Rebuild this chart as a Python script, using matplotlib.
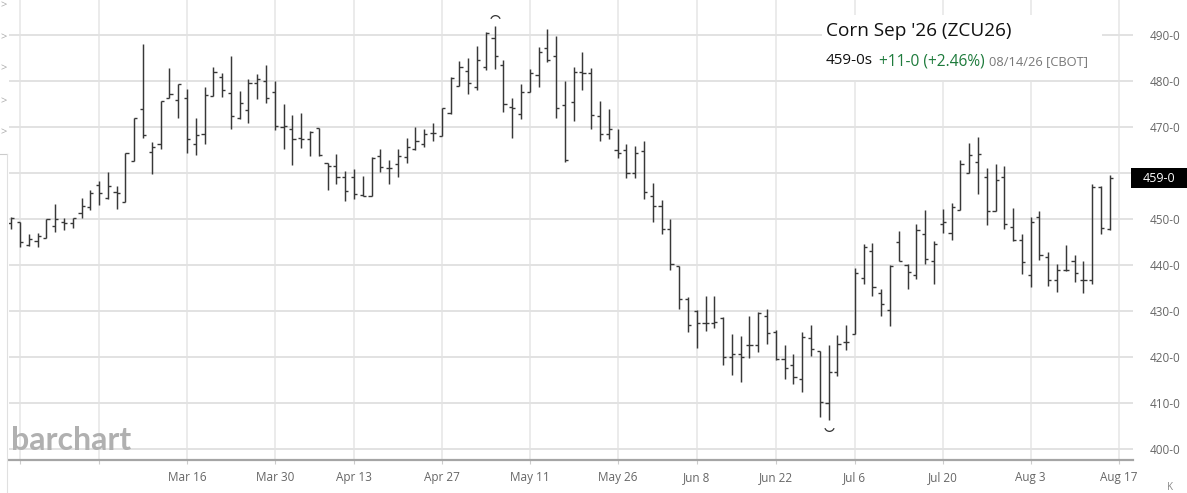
import matplotlib
matplotlib.use("Agg")
import matplotlib.pyplot as plt
import numpy as np
import pandas as pd
from matplotlib.path import Path
from matplotlib.patches import Rectangle

plt.rcParams['font.family'] = ['Open Sans', 'DejaVu Sans']

# ---------------- data ----------------
opens = [449.1, 449.3, 444.3, 445.1, 445.9, 448.5, 449.3, 449.1, 451.2, 452.5,
         457.4, 454.5, 455.9, 453.7, 462.6, 474.0, 464.6, 466.2, 476.2, 475.8,
         476.2, 466.2, 468.4, 476.7, 480.9, 477.3, 471.9, 473.7, 479.6, 480.0,
         477.7, 470.0, 469.5, 467.5, 467.3, 469.7, 462.2, 461.5, 459.1, 459.1,
         455.2, 455.0, 463.6, 461.0, 462.0, 463.5, 465.3, 466.2, 468.6, 468.0,
         473.0, 478.9, 482.2, 478.6, 483.0, 489.4, 483.5, 474.3, 472.9, 477.5,
         481.2, 487.2, 485.4, 474.8, 475.5, 482.0, 481.8, 472.4, 468.4, 465.0,
         465.0, 459.9, 464.8, 455.0, 452.8, 447.8, 439.7, 432.6, 429.9, 427.4,
         427.4, 428.5, 420.0, 420.7, 422.7, 422.7, 428.8, 425.4, 419.6, 418.2,
         415.1, 424.1, 421.4, 410.0, 416.8, 423.2, 425.0, 437.2, 443.1, 433.8,
         430.2, 444.9, 439.9, 437.9, 446.7, 440.9, 448.9, 447.0, 452.0, 459.9,
         462.4, 459.1, 451.8, 459.1, 448.3, 445.4, 437.9, 450.4, 441.7, 436.8,
         438.8, 440.8, 436.8, 436.7, 456.9, 447.9]
highs = [450.4, 449.4, 446.7, 446.9, 449.9, 453.2, 450.3, 450.3, 454.6, 456.4,
         458.3, 460.1, 457.2, 464.4, 472.0, 488.0, 466.8, 475.7, 482.9, 479.4,
         478.2, 471.9, 478.6, 483.1, 481.7, 485.4, 477.8, 480.4, 481.6, 483.4,
         479.9, 474.9, 472.6, 473.1, 469.1, 469.7, 462.2, 464.1, 460.4, 460.8,
         459.3, 463.5, 465.3, 462.8, 465.1, 467.7, 469.9, 469.6, 470.9, 474.2,
         480.9, 484.3, 484.9, 487.6, 490.7, 492.0, 484.6, 476.2, 479.4, 482.7,
         487.4, 491.2, 489.8, 480.0, 483.1, 486.2, 482.9, 475.7, 473.8, 469.6,
         466.2, 465.9, 467.0, 457.9, 454.1, 449.9, 439.7, 433.0, 430.3, 433.3,
         433.3, 428.6, 424.9, 424.5, 428.8, 429.7, 430.4, 425.9, 422.7, 420.7,
         425.5, 427.0, 421.4, 422.5, 424.8, 427.0, 439.3, 444.6, 444.7, 434.8,
         440.0, 447.3, 440.1, 448.9, 451.9, 445.3, 452.2, 453.5, 462.8, 466.5,
         467.8, 461.1, 462.0, 461.6, 452.4, 446.7, 450.4, 451.8, 442.8, 440.1,
         444.4, 442.1, 440.8, 457.5, 457.1, 459.5]
lows = [447.8, 444.0, 444.1, 444.0, 445.9, 447.2, 447.5, 448.1, 450.3, 451.9,
        453.0, 454.4, 452.2, 453.7, 462.6, 467.5, 459.8, 465.3, 476.2, 471.9,
        464.4, 463.9, 466.2, 476.7, 476.5, 469.5, 471.7, 470.9, 476.0, 475.1,
        469.3, 465.3, 461.7, 465.5, 463.6, 463.6, 456.2, 457.5, 453.9, 454.3,
        455.0, 455.0, 460.3, 457.5, 459.2, 462.2, 464.9, 465.7, 467.0, 468.0,
        472.9, 478.9, 477.2, 478.0, 482.3, 482.7, 473.3, 467.7, 471.8, 477.5,
        478.6, 484.1, 472.0, 462.4, 471.2, 478.0, 469.5, 467.0, 467.3, 463.3,
        459.0, 459.0, 454.3, 449.3, 446.8, 439.0, 430.4, 425.4, 422.0, 425.7,
        426.3, 418.2, 416.0, 414.5, 419.8, 421.0, 422.9, 419.4, 415.2, 414.2,
        412.3, 420.1, 407.0, 406.3, 415.8, 421.6, 425.0, 435.9, 433.3, 428.8,
        426.8, 440.8, 434.8, 437.0, 440.1, 435.9, 447.0, 445.5, 452.0, 459.9,
        455.4, 448.6, 451.7, 447.9, 445.3, 438.0, 435.2, 441.0, 435.4, 434.1,
        438.6, 436.4, 433.9, 435.9, 446.7, 447.5]
closes = [450.3, 445.0, 445.6, 446.3, 449.9, 449.9, 449.2, 450.3, 452.8, 455.6,
          455.6, 457.2, 455.6, 464.4, 472.0, 468.2, 465.7, 475.7, 477.1, 479.3,
          467.3, 468.3, 477.0, 482.0, 478.0, 472.4, 475.1, 479.6, 480.5, 476.4,
          470.2, 470.1, 467.3, 467.3, 468.9, 463.8, 461.6, 459.2, 456.1, 455.5,
          455.0, 463.3, 461.2, 461.1, 463.7, 465.7, 466.9, 468.4, 468.6, 474.1,
          480.7, 483.0, 479.6, 484.5, 490.5, 485.4, 474.9, 474.2, 477.7, 481.7,
          486.2, 484.6, 474.2, 462.8, 482.0, 481.7, 472.6, 468.4, 469.6, 464.3,
          459.9, 464.3, 455.9, 452.8, 447.9, 440.2, 432.6, 426.9, 427.4, 427.4,
          427.6, 420.0, 420.7, 420.0, 422.5, 429.6, 425.2, 419.6, 417.6, 415.7,
          424.3, 421.7, 410.3, 416.8, 422.8, 423.2, 438.3, 443.8, 435.1, 431.5,
          439.7, 440.8, 438.4, 447.5, 441.4, 444.6, 449.3, 452.6, 462.0, 464.0,
          464.1, 451.7, 458.4, 448.8, 445.5, 440.7, 449.3, 442.2, 436.7, 439.0,
          438.8, 438.3, 436.7, 457.0, 448.0, 459.0]

grid_dates = ['2026-02-17', '2026-03-02', '2026-03-16', '2026-03-30', '2026-04-13',
              '2026-04-27', '2026-05-11', '2026-05-26', '2026-06-08', '2026-06-22',
              '2026-07-06', '2026-07-20', '2026-08-03', '2026-08-17']
grid_labels = ['', '', 'Mar 16', 'Mar 30', 'Apr 13', 'Apr 27', 'May 11', 'May 26',
               'Jun 8', 'Jun 22', 'Jul 6', 'Jul 20', 'Aug 3', 'Aug 17']
y_ticks = [400, 410, 420, 430, 440, 450, 460, 470, 480, 490]
y_labels = ['400-0', '410-0', '420-0', '430-0', '440-0', '450-0', '', '470-0', '480-0', '490-0']
holidays = ['2026-02-16', '2026-04-03', '2026-05-25', '2026-06-19', '2026-07-03']

title = "Corn Sep '26 (ZCU26)"
last_txt = "459-0s"
chg_txt = "+11-0 (+2.46%)"
date_txt = "08/14/26 [CBOT]"
price_box_txt = "459-0"

# ---------------- figure ----------------
W, H = 1187, 493
fig = plt.figure(figsize=(W / 100, H / 100), dpi=100)
fig.patch.set_facecolor('white')

def fx(px):
    return px / W

def fy(py):
    return 1 - py / H

ax = fig.add_axes([fx(9), fy(460), fx(1133) - fx(9), fy(0) - fy(460)])

dates = pd.bdate_range('2026-02-13', '2026-08-17')
dates = dates[~dates.isin(pd.to_datetime(holidays))]
n = len(opens)
x = np.arange(n)

o = np.array(opens); h = np.array(highs); l = np.array(lows); c = np.array(closes)

bar_col = '#383838'
tk = 0.36
ax.vlines(x, l, h, color=bar_col, lw=1.05, zorder=3)
ax.hlines(o, x - tk, x, color=bar_col, lw=1.0, zorder=3)
ax.hlines(c, x, x + tk, color=bar_col, lw=1.0, zorder=3)

# high / low markers
imax = int(np.argmax(h)); imin = int(np.argmin(l))
ax.plot([x[imax]], [h[imax] + 1.3], marker=Path.arc(20, 160), ms=7, mfc='none',
        mec='#333333', mew=0.9, ls='none', zorder=3)
ax.plot([x[imin]], [l[imin] - 1.3], marker=Path.arc(200, 340), ms=7, mfc='none',
        mec='#333333', mew=0.9, ls='none', zorder=3)

ax.set_xlim(-0.25, 127.64)
ax.set_ylim(397.6, 497.6)

gpos = [dates.get_loc(pd.Timestamp(d)) for d in grid_dates]
ax.set_xticks(gpos)
ax.set_xticklabels(grid_labels, fontsize=8.5, color='#666666')
ax.tick_params(axis='x', length=3, width=0.8, color='#cccccc', pad=5)
for xv in gpos:
    ax.axvline(xv, color='#e6e6e6', lw=1.1, zorder=1)

ax.yaxis.tick_right()
ax.set_yticks(y_ticks)
ax.set_yticklabels(y_labels, fontsize=8.5, color='#666666')
ax.tick_params(axis='y', length=0, pad=12)
for yv in y_ticks:
    ax.axhline(yv, color='#e2e2e2', lw=1.4, zorder=1)

for s in ['top', 'left', 'right']:
    ax.spines[s].set_visible(False)
ax.spines['bottom'].set_color('#a5a5a5')
ax.spines['bottom'].set_linewidth(1.6)
ax.set_facecolor('white')

# header box
fig.patches.append(Rectangle((fx(822), fy(80)), fx(1102) - fx(822), fy(15) - fy(80),
                             transform=fig.transFigure, facecolor='white',
                             edgecolor='none', zorder=2))
fig.text(fx(826), fy(31), title, fontsize=13.7, color='#111111', va='center', ha='left', zorder=5)
fig.text(fx(826), fy(61), last_txt, fontsize=11, color='#111111', va='center', ha='left', zorder=5)
fig.text(fx(879), fy(61), chg_txt, fontsize=11.2, color='#1e7b3c', va='center', ha='left', zorder=5)
fig.text(fx(989), fy(62), date_txt, fontsize=9.3, color='#777777', va='center', ha='left', zorder=5)

# last price box
fig.patches.append(Rectangle((fx(1131), fy(188)), fx(1187) - fx(1131), fy(168) - fy(188),
                             transform=fig.transFigure, facecolor='black',
                             edgecolor='none', zorder=4))
fig.text(fx(1159), fy(178), price_box_txt, fontsize=9, color='white',
         va='center', ha='center', zorder=5)

# watermark
fig.text(fx(11), fy(440), 'barchart', fontsize=23, fontweight='bold', color='#b0b0b0',
         va='center', ha='left', family=['Lato', 'DejaVu Sans'], zorder=5)

# side UI glyphs
for py in [6, 38, 69, 102, 133]:
    fig.text(fx(3.5), fy(py), '>', fontsize=8, color='#aaaaaa', va='center', ha='center')
fig.lines.append(plt.Line2D([fx(0), fx(7)], [fy(154), fy(154)], transform=fig.transFigure,
                            color='#cccccc', lw=0.8))
fig.lines.append(plt.Line2D([fx(7), fx(7)], [fy(154), fy(493)], transform=fig.transFigure,
                            color='#e0e0e0', lw=0.8))
fig.text(fx(1170), fy(488), 'K', fontsize=7, color='#888888', va='center', ha='center')

fig.savefig('out.png', dpi=100)
